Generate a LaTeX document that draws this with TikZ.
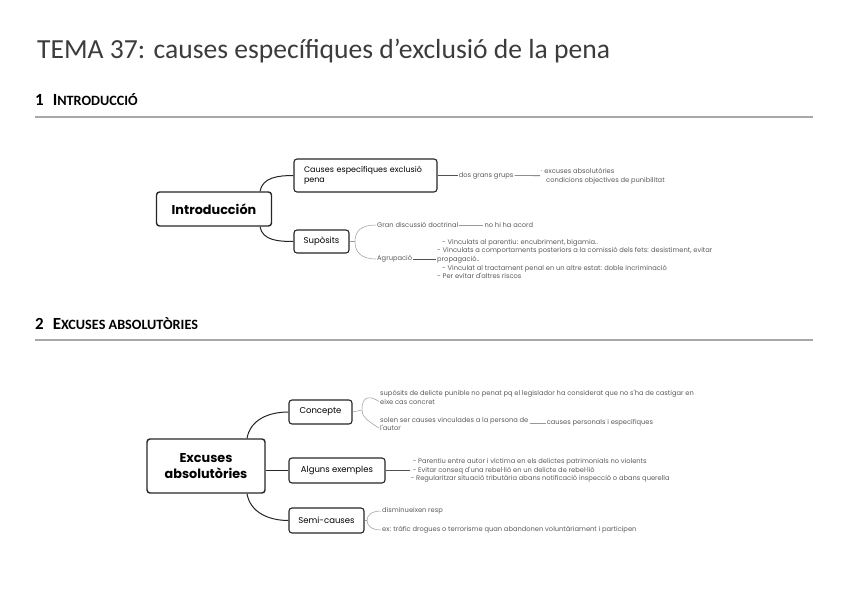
\documentclass[tikz,border=0pt]{standalone}
\usepackage{fontspec}
\setmainfont{Carlito}
\newfontfamily\mapfont{Poppins}
\usetikzlibrary{positioning}

\definecolor{inkdark}{HTML}{262626}
\definecolor{notegray}{HTML}{5A5A5A}
\definecolor{rulegray}{HTML}{A8A8A8}

\newcommand{\fakesc}[2]{{\fontsize{17}{17}\selectfont #1}{\fontsize{14.2}{14.2}\selectfont #2}}

\begin{document}
\begin{tikzpicture}[
    x=1pt, y=-1pt,
    node distance=6pt and 8pt,
    rootbox/.style={
        draw=inkdark,
        line width=1.4pt,
        rounded corners=3pt,
        align=center,
        inner sep=2pt,
        font=\mapfont\bfseries\fontsize{12.8}{15.5}\selectfont
    },
    leafbox/.style={
        draw=inkdark,
        line width=1.1pt,
        rounded corners=3pt,
        fill=white,
        inner sep=2pt,
        font=\mapfont\fontsize{8.5}{10}\selectfont
    },
    note/.style={
        anchor=west,
        inner sep=1pt,
        text=notegray,
        align=left,
        font=\mapfont\fontsize{6.7}{8.7}\selectfont
    },
    branch/.style={draw=inkdark, line width=1pt},
    twig/.style={draw=inkdark!80, line width=0.6pt},
    brace/.style={draw=black!40, line width=0.5pt},
    secrule/.style={draw=rulegray, line width=1.2pt}
]

\useasboundingbox (0,0) rectangle (848,599);

% titles and section headings
\node[anchor=base west, inner sep=0pt, text=inkdark!90, font=\fontsize{27.6}{28}\selectfont]
    (titol) at (37,59) {TEMA 37: causes específiques d’exclusió de la pena};
\node[anchor=base west, inner sep=0pt, font=\bfseries] (sec1) at (35,106)
    {\fontsize{17}{17}\selectfont 1\hspace{9pt}\fakesc{I}{NTRODUCCIÓ}};
\coordinate (r1a) at (35,117);
\coordinate (r1b) at (813,117);
\draw[secrule] (r1a) -- (r1b);
\node[anchor=base west, inner sep=0pt, font=\bfseries] (sec2) at (35,329)
    {\fontsize{17}{17}\selectfont 2\hspace{9pt}\fakesc{E}{XCUSES ABSOLUTÒRIES}};
\coordinate (r2a) at (35,340);
\coordinate (r2b) at (813,340);
\draw[secrule] (r2a) -- (r2b);

% ---- introduccio map
\node[rootbox, minimum width=115pt, minimum height=34pt] (intro) at (214,209) {Introducción};
\node[leafbox, minimum height=33pt, inner xsep=10pt, text width=123pt, align=left,
      font=\mapfont\fontsize{8}{10}\selectfont]
    (causes) at (365.5,175.5) {Causes específiques exclusió\\pena};
\node[leafbox, minimum width=55pt, minimum height=23pt] (suposits) at (321.5,241.5) {Supòsits};

\draw[branch] ([xshift=46pt]intro.north) to[out=80,in=180] (causes.west);
\draw[branch] ([xshift=46pt]intro.south) to[out=-80,in=180] (suposits.west);

\node[note, right=20pt of causes] (grups) {dos grans grups};
\draw[twig] (causes) -- (grups);
\node[note] (grupsllista) at (540,176)
    {· excuses absolutòries\\\hspace{5pt}condicions objectives de punibilitat};
\draw[twig] (grups) -- (grupsllista);

\coordinate (supk) at (355,241.5);
\node[note] (discussio) at (376,225) {Gran discussió doctrinal};
\node[note] (agrupacio) at (376,259) {Agrupació};
\draw[brace] (suposits.east) -- (supk);
\draw[brace] (discussio.west) .. controls (360,225) and (355,232) .. (supk)
             .. controls (355,251) and (360,259) .. (agrupacio.west);
\node[note, right=24pt of discussio] (acord) {no hi ha acord};
\draw[brace] (discussio) -- (acord);
\node[note] (agrupllista) at (436,259)
    {\hspace{5pt}- Vinculats al parentiu: encubriment, bigamia..\\
     - Vinculats a comportaments posteriors a la comissió dels fets: desistiment, evitar\\
     propagació..\\
     \hspace{5pt}- Vinculat al tractament penal en un altre estat: doble incriminació\\
     - Per evitar d'altres riscos};
\draw[twig] (agrupacio) -- (agrupacio -| agrupllista.west);

% ---- excuses absolutories map
\node[rootbox, minimum width=118pt, minimum height=54pt] (excuses) at (206,466) {Excuses\\absolutòries};
\node[leafbox, minimum width=63pt, minimum height=24pt] (concepte) at (320.5,412) {Concepte};
\node[leafbox, minimum width=96pt, minimum height=25pt] (exemples) at (337,470.5) {Alguns exemples};
\node[leafbox, minimum width=75pt, minimum height=25pt] (semi) at (326.5,520.5) {Semi-causes};

\draw[branch] ([xshift=41pt]excuses.north) to[out=80,in=180] (concepte.west);
\draw[branch] (excuses.east |- exemples.west) -- (exemples.west);
\draw[branch] ([xshift=41pt]excuses.south) to[out=-80,in=180] (semi.west);

\coordinate (conk) at (362,410);
\node[note] (suposit) at (379,397.5)
    {supòsits de delicte punible no penat pq el legislador ha considerat que no s'ha de castigar en\\
     eixe cas concret};
\node[note] (persona) at (379,424)
    {solen ser causes vinculades a la persona de\\l'autor};
\draw[brace] ([yshift=-4pt]suposit.west) .. controls (366,393) and (362,400) .. (conk)
             .. controls (362,416) and (366,420) .. ([yshift=-4pt]persona.west);
\draw[brace] (concepte.east) -- (conk);
\node[note, right=16pt of persona, yshift=1pt] (personals) {causes personals i específiques};
\draw[brace] ([yshift=1pt]persona.east) -- (personals);

\node[note, right=24pt of exemples] (exllista)
    {\hspace{2pt}- Parentiu entre autor i víctima en els delictes patrimonials no violents\\
     \hspace{2pt}- Evitar conseq d'una rebel·lió en un delicte de rebel·lió\\
     - Regularitzar situació tributària abans notificació inspecció o abans querella};
\draw[twig] (exemples) -- (exemples -| exllista.west);

\coordinate (semik) at (367,520.5);
\node[note] (disminueix) at (381,511) {disminueixen resp};
\node[note] (trafic) at (381,530)
    {ex: tràfic drogues o terrorisme quan abandonen voluntàriament i participen};
\draw[brace] (semi.east) -- (semik);
\draw[brace] (disminueix.west) .. controls (372,511) and (367,515) .. (semik)
             .. controls (367,526) and (372,530) .. (trafic.west);

\end{tikzpicture}
\end{document}
